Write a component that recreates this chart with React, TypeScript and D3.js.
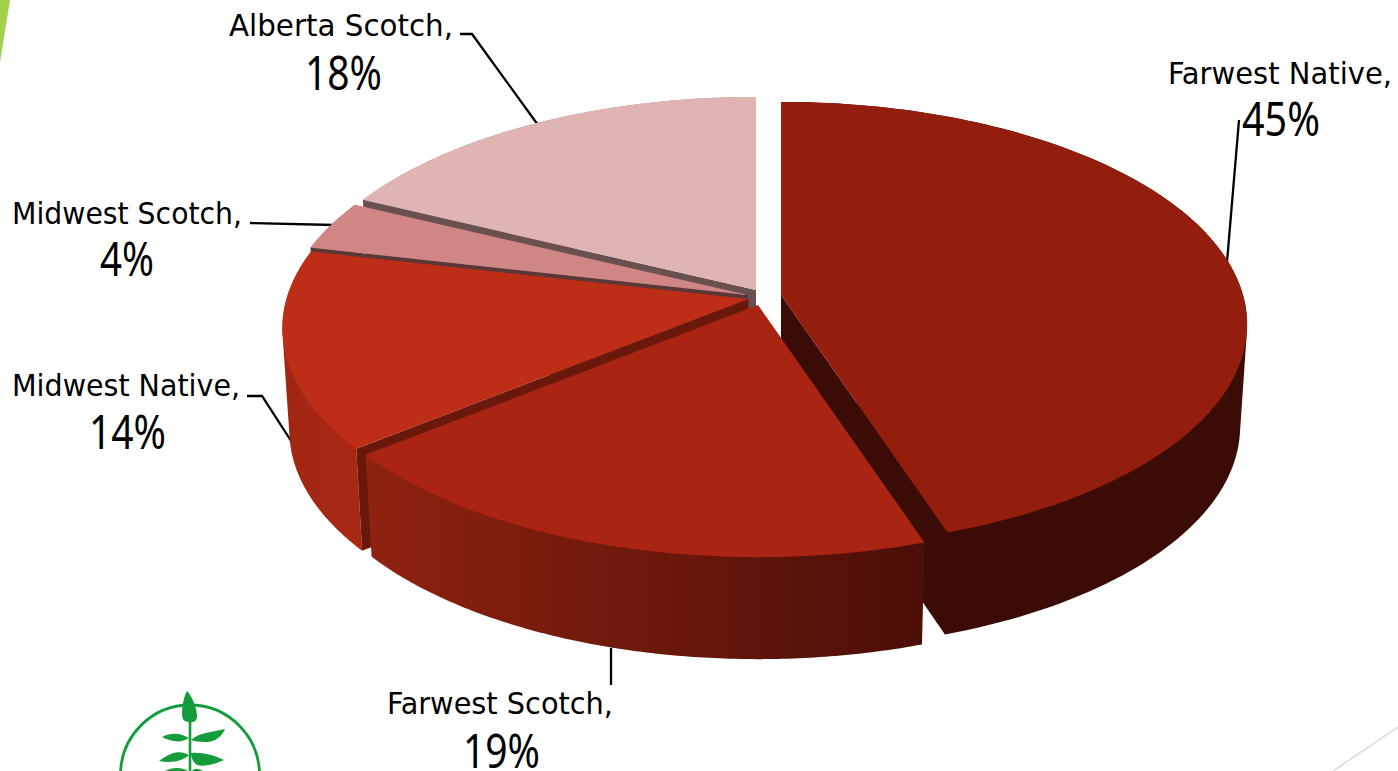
import React from "react";
import * as d3 from "d3";

// ---- data ----
const categories = ["Farwest Native", "Farwest Scotch", "Midwest Native", "Midwest Scotch", "Alberta Scotch"];
const shares = [44.9, 19.3, 14.38, 3.6, 17.82];
const percentLabels = ["45%", "19%", "14%", "4%", "18%"];
const topColors = ["#931E0E", "#A92413", "#BE2D15", "#D08684", "#DFB4B3"];
const wallColors = ["#3A0C05", "none", "#6B180C", "#5A3838", "#6B5050"];
const sideFrom = ["#3A0C05", "#8F2210", "#A02612", "#A86A68", "#B89090"];
const sideTo = ["#3A0C05", "#4A0F07", "#A82913", "#A86A68", "#B89090"];

// ---- layout ----
const W = 1398;
const H = 771;
const apexes: [number, number][] = [[781, 295], [758, 305], [748.5, 299], [748, 295], [756, 290]];
const drawOrder = [0, 4, 3, 2, 1];
const RX = 462;
const RY = 218.7;
const PERSP = 0.1326;
const DEPTH = 102;
const SHRINK = 0.985;

const labelBoxes = [
  { name: [1168, 84, 224], pct: [1242, 136, 78] },
  { name: [387, 714, 226], pct: [463, 768, 77] },
  { name: [12, 396, 228], pct: [89, 449, 77] },
  { name: [12, 224, 230], pct: [100, 276, 54] },
  { name: [229, 36, 224], pct: [305, 90, 77] },
];
const leaders: [number, number][][] = [
  [[1239, 120], [1227, 262]],
  [[611, 648], [611, 685]],
  [[247, 396], [262, 396], [295, 447]],
  [[250, 223], [334, 225]],
  [[460, 34], [472, 34], [538, 125]],
];

function project(i: number, a: number, bottom: boolean): [number, number] {
  const u = Math.sin(a);
  const v = -Math.cos(a);
  const den = 1 - PERSP * v;
  const [cx, cy] = apexes[i];
  const s = bottom ? SHRINK : 1;
  return [cx + (s * RX * u) / den, cy + (RY * v) / den + (bottom ? DEPTH : 0)];
}

const lineGen = d3.line<[number, number]>().x((d) => d[0]).y((d) => d[1]);

function ring(i: number, a0: number, a1: number, bottom: boolean): [number, number][] {
  return d3.range(0, 121).map((k) => project(i, a0 + ((a1 - a0) * k) / 120, bottom));
}

export default function App() {
  const arcs = d3.pie<number>().sort(null).startAngle(0).endAngle(2 * Math.PI)(shares);
  return (
    <svg
      width={W}
      height={H}
      viewBox={`0 0 ${W} ${H}`}
      style={{ position: "fixed", left: 0, top: 0, background: "#fff", display: "block" }}
      fontFamily="'DejaVu Sans Condensed', 'DejaVu Sans', sans-serif"
    >
      <defs>
        {categories.map((_, i) => {
          const xs = ring(i, arcs[i].startAngle, arcs[i].endAngle, false).map((p) => p[0]);
          return (
            <linearGradient
              key={i}
              id={`side${i}`}
              gradientUnits="userSpaceOnUse"
              x1={d3.min(xs)}
              x2={d3.max(xs)}
              y1={0}
              y2={0}
            >
              <stop offset="0" stopColor={sideFrom[i]} />
              <stop offset="1" stopColor={sideTo[i]} />
            </linearGradient>
          );
        })}
      </defs>

      {/* slide decoration */}
      <polygon points="0,0 10,0 0,62" fill="#A2D14A" />
      <line x1={1333} y1={771} x2={1398} y2={727} stroke="#D9D9D9" strokeWidth={1.5} />

      {/* leaders sit under the pie */}
      {leaders.map((l, i) => (
        <path key={i} d={lineGen(l) ?? ""} fill="none" stroke="#000" strokeWidth={2.3} />
      ))}

      {drawOrder.map((i) => {
        const { startAngle: a0, endAngle: a1 } = arcs[i];
        const top = ring(i, a0, a1, false);
        const bot = ring(i, a0, a1, true);
        const apex = apexes[i];
        const apexB: [number, number] = [apex[0], apex[1] + DEPTH];
        // the cut wall that faces the viewer
        const wallAngle = i === 0 ? a1 : a0;
        const wall: [number, number][] = [apex, project(i, wallAngle, false), project(i, wallAngle, true), apexB];
        const hull = d3.polygonHull([...top, ...bot]) ?? [];
        return (
          <g key={i}>
            <path d={(lineGen(hull) ?? "") + "Z"} fill={`url(#side${i})`} />
            <path d={(lineGen(wall) ?? "") + "Z"} fill={wallColors[i]} />
            <path d={(lineGen([apex, ...top]) ?? "") + "Z"} fill={topColors[i]} />
          </g>
        );
      })}

      {/* labels */}
      {categories.map((c, i) => (
        <g key={c} fill="#000">
          <text
            x={labelBoxes[i].name[0]}
            y={labelBoxes[i].name[1]}
            fontSize={30}
            textLength={labelBoxes[i].name[2]}
            lengthAdjust="spacingAndGlyphs"
          >
            {c + ","}
          </text>
          <text
            x={labelBoxes[i].pct[0]}
            y={labelBoxes[i].pct[1]}
            fontSize={48}
            fontFamily="'Noto Sans', sans-serif"
            textLength={labelBoxes[i].pct[2]}
            lengthAdjust="spacingAndGlyphs"
          >
            {percentLabels[i]}
          </text>
        </g>
      ))}

      {/* logo */}
      <g fill="#149C3C">
        <ellipse cx={190} cy={775} rx={69.5} ry={70} fill="none" stroke="#149C3C" strokeWidth={2.8} />
        <rect x={188.7} y={715} width={2.6} height={56} />
        <path d="M187 691 C192 696 197 708 197 716 C197 721 194 723 189 722 C184 722 182 719 182 714 C182 706 184 696 187 691Z" />
        <path d="M189 738 C180 733 172 732 162 737 C170 741 180 744 189 738Z" />
        <path d="M191 740 C198 733 212 732 225 729 C222 737 213 743 205 742 C199 742 194 741 191 740Z" />
        <path d="M189 755 C182 751 173 750 159 761 C170 763 182 762 189 755Z" />
        <path d="M191 753 C202 752 214 755 224 760 C215 764 206 767 197 765 C193 762 191 758 191 753Z" />
        <path d="M188 771 C182 767 172 767 165 771Z" />
        <path d="M192 771 C194 768 198 768 203 771Z" />
      </g>
    </svg>
  );
}
